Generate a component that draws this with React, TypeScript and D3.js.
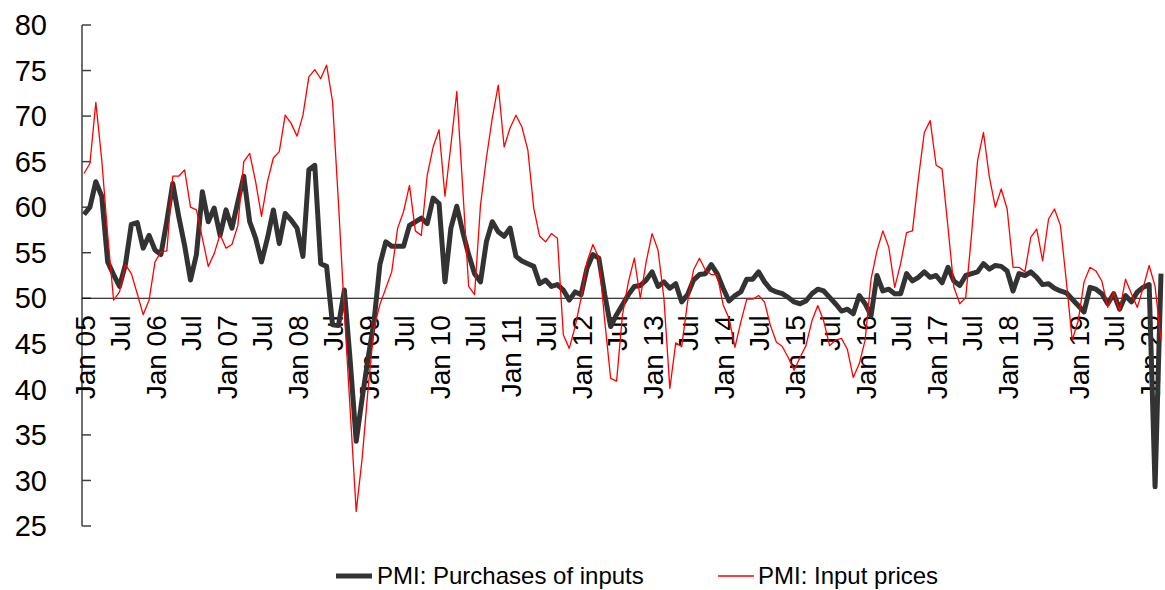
import React from "react";
import * as d3 from "d3";

const width = 1165;
const height = 590;

// monthly, Jan 2005 .. Mar 2020
const purchases = [
  59.2, 60.0, 62.8, 61.2, 54.0, 52.6, 51.3, 53.7, 58.1, 58.3, 55.5, 56.9,
  55.3, 54.8, 58.5, 62.6, 59.0, 55.8, 52.0, 54.8, 61.7, 58.4, 59.9, 56.9,
  59.7, 57.7, 60.6, 63.4, 58.4, 56.6, 54.0, 56.6, 59.7, 56.0, 59.3, 58.6,
  57.7, 54.6, 64.1, 64.6, 53.8, 53.5, 47.1, 47.0, 50.9, 43.0, 34.3, 39.0,
  43.4, 47.4, 53.7, 56.2, 55.7, 55.7, 55.7, 58.0, 58.4, 58.8, 58.2, 61.0,
  60.4, 51.8, 57.7, 60.1, 57.3, 54.8, 52.7, 51.8, 56.2, 58.4, 57.3, 56.8,
  57.7, 54.6, 54.1, 53.8, 53.5, 51.6, 52.0, 51.3, 51.5, 50.9, 49.8, 50.7,
  50.4, 53.3, 54.8, 54.4, 50.4, 46.9, 48.2, 49.3, 50.4, 51.3, 51.4, 52.0,
  52.9, 51.3, 51.8, 51.1, 51.6, 49.6, 50.4, 52.0, 52.6, 52.7, 53.7, 52.7,
  51.1, 49.7, 50.3, 50.7, 52.1, 52.1, 52.9, 51.8, 51.0, 50.7, 50.5, 50.1,
  49.6, 49.4, 49.7, 50.5, 51.0, 50.8, 50.1, 49.4, 48.6, 48.8, 48.3, 50.3,
  49.4, 48.1, 52.5, 50.8, 51.0, 50.5, 50.5, 52.7, 51.9, 52.3, 52.9, 52.3,
  52.5, 51.7, 53.4, 51.9, 51.4, 52.5, 52.7, 52.9, 53.8, 53.2, 53.6, 53.5,
  53.0, 50.8, 52.7, 52.5, 52.9, 52.3, 51.5, 51.6, 51.1, 50.8, 50.6, 49.9,
  49.2, 48.5, 51.2, 51.0, 50.5, 49.4, 50.5, 48.8, 50.3, 49.6, 50.7, 51.2,
  51.5, 29.3, 52.7
];

const inputPrices = [
  63.7, 64.8, 71.5, 65.2, 57.0, 49.8, 50.7, 53.7, 52.7, 50.5, 48.2, 49.8,
  54.0, 55.1, 55.2, 63.4, 63.4, 64.1, 60.0, 59.7, 56.6, 53.5, 54.9, 57.0,
  55.5, 55.9, 58.0, 65.0, 65.9, 62.8, 59.0, 62.8, 65.4, 66.1, 70.1, 69.2,
  67.8, 70.1, 74.3, 75.1, 74.1, 75.6, 71.6, 60.5, 48.5, 37.5, 26.6, 32.4,
  40.0, 46.7, 49.3, 51.1, 52.9, 57.7, 59.5, 62.4, 57.4, 56.9, 63.5, 66.6,
  68.5, 61.2, 66.8, 72.7, 62.1, 51.3, 50.4, 60.2, 65.4, 69.8, 73.4, 66.6,
  68.7, 70.1, 68.8, 66.3, 59.9, 56.8, 56.2, 57.1, 56.6, 46.0, 44.5, 46.9,
  50.0, 54.0, 55.9, 54.4, 47.5, 41.2, 40.9, 48.2, 51.8, 54.4, 50.0, 54.0,
  57.1, 55.3, 50.0, 40.1, 45.1, 44.7, 49.6, 53.1, 54.4, 53.1, 52.6, 52.6,
  49.3, 47.8, 44.6, 47.4, 49.9, 49.9, 50.3, 49.6, 47.0, 45.2, 44.7, 43.5,
  42.1, 43.5, 44.8, 47.5, 49.2, 47.5, 44.8, 45.4, 45.6, 44.4, 41.3, 42.8,
  45.4, 52.1, 55.2, 57.4, 55.6, 51.2, 53.8, 57.2, 57.4, 63.1, 68.2, 69.5,
  64.6, 64.2, 57.8, 51.2, 49.4, 50.1, 57.1, 65.1, 68.2, 63.3, 60.0, 62.0,
  59.8, 53.4, 53.4, 52.9, 56.7, 57.6, 54.1, 58.7, 59.8, 58.0, 51.9, 45.4,
  47.5, 51.8, 53.4, 53.0, 51.9, 49.0, 50.7, 48.6, 52.1, 50.5, 49.0, 51.2,
  53.6, 51.3, 45.4
];

// one label every 6 months
const xTickLabels = [
  "Jan 05", "Jul", "Jan 06", "Jul", "Jan 07", "Jul", "Jan 08", "Jul",
  "Jan 09", "Jul", "Jan 10", "Jul", "Jan 11", "Jul", "Jan 12", "Jul",
  "Jan 13", "Jul", "Jan 14", "Jul", "Jan 15", "Jul", "Jan 16", "Jul",
  "Jan 17", "Jul", "Jan 18", "Jul", "Jan 19", "Jul", "Jan 20"
];

const yTicks = [25, 30, 35, 40, 45, 50, 55, 60, 65, 70, 75, 80];

const seriesNames = ["PMI: Purchases of inputs", "PMI: Input prices"];

const font = "Arial, 'Liberation Sans', sans-serif";

export default function App() {
  const axisX = 82;

  const x = d3
    .scaleLinear()
    .domain([0, purchases.length - 1])
    .range([84, 1161]);

  const y = d3.scaleLinear().domain([25, 80]).range([526, 25]);

  const line = d3
    .line<number>()
    .x((d, i) => x(i))
    .y(d => y(d));

  return (
    <svg
      width={width}
      height={height}
      style={{ position: "absolute", left: 0, top: 0, background: "#fff" }}
    >
      {/* y axis */}
      <line x1={axisX} x2={axisX} y1={y(80)} y2={y(25)} stroke="#404040" strokeWidth={1.5} />
      {yTicks.map(t => (
        <g key={t}>
          <line x1={axisX} x2={axisX + 9} y1={y(t)} y2={y(t)} stroke="#404040" strokeWidth={1.5} />
          <text
            x={47}
            y={y(t)}
            dy="0.35em"
            textAnchor="end"
            fontFamily={font}
            fontSize={29}
            fill="#000"
          >
            {t}
          </text>
        </g>
      ))}

      {/* x axis at 50 */}
      <line x1={axisX} x2={1162} y1={y(50)} y2={y(50)} stroke="#000" strokeWidth={1.2} />
      {xTickLabels.map((lab, k) => (
        <text
          key={k}
          transform={`translate(${x(k * 6) + 1}, ${y(50) + 17}) rotate(-90)`}
          textAnchor="end"
          dominantBaseline="central"
          fontFamily={font}
          fontSize={28}
          fill="#000"
        >
          {lab}
        </text>
      ))}

      <path
        d={line(purchases) || ""}
        fill="none"
        stroke="#333333"
        strokeWidth={5}
        strokeLinejoin="round"
      />
      <path
        d={line(inputPrices) || ""}
        fill="none"
        stroke="#ff0000"
        strokeWidth={1.3}
        strokeLinejoin="round"
      />

      {/* legend */}
      <line x1={336} x2={372} y1={576} y2={576} stroke="#333333" strokeWidth={5} />
      <text x={377} y={576} dy="0.35em" fontFamily={font} fontSize={24} fill="#000">
        {seriesNames[0]}
      </text>
      <line x1={718} x2={754} y1={576} y2={576} stroke="#ff0000" strokeWidth={1.5} />
      <text x={758} y={576} dy="0.35em" fontFamily={font} fontSize={24} fill="#000">
        {seriesNames[1]}
      </text>
    </svg>
  );
}
